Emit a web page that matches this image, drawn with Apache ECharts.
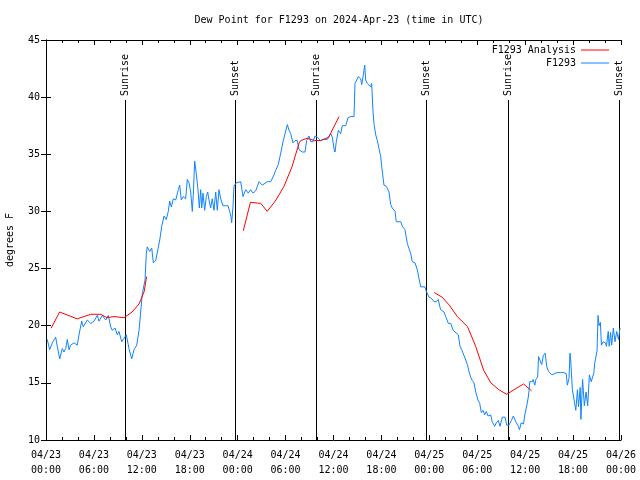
<!DOCTYPE html>
<html><head><meta charset="utf-8">
<script src="https://cdn.jsdelivr.net/npm/echarts@6/dist/echarts.min.js"></script>
<style>html,body{margin:0;padding:0;background:#fff}#c{width:640px;height:480px}</style>
</head><body><div id="c"></div>
<script>
const titleText = 'Dew Point for F1293 on 2024-Apr-23 (time in UTC)';
const yLabel = 'degrees F';
// hours since 04/23 00:00 UTC
const blueHours = [0.16,0.46,0.79,1.21,1.41,1.72,2.04,2.25,2.47,2.67,2.88,3.09,3.51,3.92,4.13,4.47,4.67,5.17,5.60,6.01,6.42,6.64,7.05,7.48,7.80,8.10,8.30,8.64,8.93,9.14,9.48,9.77,10.06,10.39,10.73,11.02,11.36,11.65,12.06,12.40,
12.56,12.68,12.99,13.24,13.44,13.74,13.94,14.24,14.49,14.78,15.06,15.31,15.49,15.69,15.94,16.24,16.57,16.74,16.94,17.19,17.49,17.69,17.91,18.12,18.32,18.44,18.62,18.82,19.03,19.20,19.37,19.50,19.66,19.87,20.07,20.25,20.41,20.62,20.82,21.04,21.25,21.45,21.66,21.88,22.16,22.50,22.79,23.00,23.17,23.25,23.42,23.54,23.83,
23.95,24.38,24.67,25.01,25.33,25.63,25.92,26.26,26.67,27.09,27.30,27.71,28.14,28.55,28.76,29.09,29.39,29.68,29.93,30.22,30.43,30.64,30.93,31.18,31.47,31.68,32.09,32.43,32.64,32.93,33.15,33.43,33.68,33.97,34.40,34.69,35.22,35.44,35.65,35.85,36.06,36.19,36.35,36.61,36.90,37.10,37.53,37.82,38.15,38.57,38.69,38.91,39.11,39.41,39.53,39.73,39.91,40.03,40.23,40.45,40.66,40.78,40.95,41.08,41.29,41.49,41.70,41.91,42.04,42.20,42.32,42.61,42.82,42.95,43.16,43.36,43.70,43.86,44.42,44.62,44.95,45.24,
45.67,45.87,46.21,46.49,46.71,46.92,47.46,47.62,47.96,48.25,48.59,48.87,49.12,49.30,49.42,49.84,50.05,50.38,50.68,50.97,51.22,51.63,51.84,52.05,52.22,52.56,52.76,52.97,53.18,53.38,53.59,53.81,54.09,54.31,54.51,54.72,54.93,55.13,55.35,55.68,55.88,56.18,56.38,56.64,56.85,57.14,57.48,57.69,57.98,58.27,58.52,58.82,59.14,
59.29,59.50,59.80,59.93,60.14,60.36,60.48,60.57,60.78,60.91,60.99,61.21,61.34,61.56,61.68,61.86,62.07,62.28,62.50,62.71,62.92,63.14,63.35,63.56,63.99,64.41,64.84,65.14,65.28,65.49,65.61,65.70,65.91,66.13,66.34,66.55,66.68,66.89,66.98,67.19,67.41,67.62,67.83,68.04,68.27,68.61,68.70,69.00,69.12,69.25,69.42,69.55,69.76,70.06,70.18,70.40,70.52,70.70,70.83,71.04,71.25,71.46,71.68,71.88];
const blueValues = [18.8,17.9,18.5,19.0,18.2,17.1,18.0,17.7,18.0,18.8,17.9,18.3,18.5,18.3,19.2,20.4,19.9,20.5,20.2,20.4,20.9,20.4,20.9,20.5,20.9,19.9,19.6,19.8,19.2,19.5,18.6,18.9,19.2,18.0,17.1,17.9,18.3,19.6,22.8,24.0,
26.3,26.9,26.5,26.8,25.5,25.7,25.7,27.5,28.7,29.6,29.3,30.0,30.9,30.4,31.1,31.0,31.9,32.3,31.0,31.3,31.1,32.8,32.5,31.7,30.0,31.4,34.4,33.3,31.9,30.3,31.9,30.3,31.6,30.1,31.3,31.7,31.0,30.3,31.1,30.1,31.7,30.1,31.9,31.1,30.5,30.5,30.5,30.0,29.5,29.0,30.5,32.2,32.5,
32.6,32.6,31.3,31.9,31.6,31.9,31.6,31.8,32.6,32.3,32.2,32.6,32.6,33.2,33.6,34.1,35.1,36.1,36.8,37.6,37.1,36.8,36.0,36.2,36.2,35.4,35.2,35.2,36.2,36.6,36.1,36.1,36.6,36.5,36.2,36.3,36.3,36.2,36.8,36.5,35.5,35.2,36.1,37.1,36.8,37.5,37.5,38.2,38.3,38.3,41.2,41.5,41.8,41.6,41.1,41.9,42.8,41.5,41.2,41.3,40.9,41.2,38.7,37.6,36.7,36.2,35.5,34.8,33.9,33.0,32.3,32.2,32.3,31.7,30.6,30.3,30.0,29.1,29.1,28.7,28.4,27.2,
26.3,25.6,25.5,24.9,24.1,23.4,23.4,23.0,22.5,22.4,22.1,22.1,22.3,21.7,21.4,21.2,20.8,20.2,20.2,19.6,19.5,19.2,18.2,17.9,17.6,17.0,16.6,16.0,15.5,15.2,15.0,14.2,13.5,13.2,12.4,12.6,12.2,12.5,12.1,12.2,11.6,11.2,11.5,11.7,11.2,12.0,12.0,11.3,11.3,11.7,12.1,11.6,11.2,
10.9,11.5,11.4,12.1,12.8,13.6,14.3,15.1,15.2,15.1,15.3,14.8,15.3,15.5,17.3,17.4,16.6,17.4,17.6,16.4,16.0,16.1,15.7,15.8,15.9,15.9,15.9,15.8,14.8,15.4,17.6,17.0,14.4,13.5,12.6,14.4,12.9,14.6,11.8,15.3,13.0,14.2,13.0,15.7,15.1,15.9,16.7,17.8,20.9,20.0,20.3,18.3,18.6,18.5,18.2,19.5,18.2,19.4,18.3,19.8,18.6,19.5,18.8,19.8];

const redHours1 = [0.66,1.70,3.91,5.59,6.87,7.64,8.51,9.77,10.77,11.65,12.30,12.60];
const redValues1 = [19.8,21.2,20.6,21.0,21.0,20.7,20.8,20.7,21.2,21.9,23.0,24.3];
const redHours2 = [24.7,25.6,26.9,27.7,28.8,29.8,30.8,31.7,31.9,32.7,33.6,34.4,35.4,36.7];
const redValues2 = [28.3,30.8,30.7,30.0,31.0,32.2,33.9,36.0,36.2,36.4,36.2,36.2,36.5,38.3];
const redHours3 = [48.6,49.6,50.5,51.5,52.8,53.8,54.8,55.7,56.7,57.7,58.6,59.8,60.8];
const redValues3 = [22.9,22.5,21.8,20.8,19.9,18.2,16.1,15.0,14.4,14.0,14.4,14.9,14.3];

const sunNames = ['Sunrise','Sunset','Sunrise','Sunset','Sunrise','Sunset'];
const sunHours = [9.88,23.62,33.87,47.64,57.88,71.75];
const sunLineTop = 39.75;

const mono = 'DejaVu Sans Mono';
const zip = (a,b) => a.map((x,i)=>[x,b[i]]);
const redData = [].concat(zip(redHours1,redValues1), [[18,'-']], zip(redHours2,redValues2), [[42,'-']], zip(redHours3,redValues3));
const blueData = zip(blueHours, blueValues);

const pad = n => (n<10?'0':'')+n;
const xFmt = v => { const d = 23 + Math.floor(v/24); const h = v % 24; return '04/' + pad(d) + '\n' + pad(h) + ':00'; };

const axisCommon = {
  axisLine:{show:true,lineStyle:{color:'#000',width:1}},
  splitLine:{show:false}
};
const lineIcon = 'path://M0,0L28,0L28,1L0,1Z';
const chart = echarts.init(document.getElementById('c'));
chart.setOption({
  animation:false,
  backgroundColor:'#fff',
  title:{text:titleText,left:334,textAlign:'center',top:10,textStyle:{fontFamily:mono,fontSize:10,fontWeight:'normal',color:'#000'}},
  legend:{orient:'vertical',right:31,top:44,align:'right',itemWidth:28,itemHeight:1.5,itemGap:1,padding:0,
    textStyle:{fontFamily:mono,fontSize:10,color:'#000',lineHeight:12},
    data:[{name:'F1293 Analysis',icon:lineIcon},{name:'F1293',icon:lineIcon}]},
  grid:{left:46,right:19,top:40,bottom:40,containLabel:false,outerBoundsMode:'none'},
  xAxis:[
    Object.assign({type:'value',min:0,max:72,interval:6,position:'bottom',
      axisTick:{show:true,inside:true,length:5,lineStyle:{color:'#000'}},
      minorTick:{show:true,splitNumber:3,length:3,lineStyle:{color:'#000'}},
      axisLabel:{formatter:xFmt,fontFamily:mono,fontSize:10,color:'#000',lineHeight:15,margin:8,showMaxLabel:true,showMinLabel:true,hideOverlap:false}},axisCommon),
    Object.assign({type:'value',min:0,max:72,interval:6,position:'top',
      axisTick:{show:true,inside:true,length:5,lineStyle:{color:'#000'}},
      minorTick:{show:true,splitNumber:3,length:3,lineStyle:{color:'#000'}},
      axisLabel:{show:false}},axisCommon)
  ],
  yAxis:[
    Object.assign({type:'value',min:10,max:45,interval:5,position:'left',
      name:yLabel,nameLocation:'middle',nameRotate:90,nameGap:31,
      nameTextStyle:{fontFamily:mono,fontSize:10,color:'#000'},
      axisTick:{show:true,inside:true,length:5,lineStyle:{color:'#000'}},
      axisLabel:{fontFamily:mono,fontSize:10,color:'#000',margin:6}},axisCommon),
    Object.assign({type:'value',min:10,max:45,interval:5,position:'right',
      axisTick:{show:true,inside:true,length:5,lineStyle:{color:'#000'}},
      axisLabel:{show:false}},axisCommon)
  ],
  series:[
    {type:'custom',name:'sun',xAxisIndex:0,yAxisIndex:0,silent:true,z:1,
      data:sunHours.map((h,i)=>[h,i]),
      renderItem:function(params,api){
        const h = api.value(0); const i = api.value(1);
        const p0 = api.coord([h,10]); const p1 = api.coord([h,sunLineTop]);
        const x = Math.round(p0[0])+0.5;
        return {type:'group',children:[
          {type:'line',shape:{x1:x,y1:p0[1],x2:x,y2:p1[1]},style:{stroke:'#000',lineWidth:1}},
          {type:'text',x:x,y:p1[1]-4,rotation:Math.PI/2,
            style:{text:sunNames[i],align:'left',verticalAlign:'middle',fontFamily:mono,fontSize:10,fill:'#000'}}
        ]};
      }},
    {type:'line',name:'F1293',data:blueData,symbol:'none',showSymbol:false,connectNulls:false,
      lineStyle:{color:'#1083ff',width:1},itemStyle:{color:'#1083ff'},z:2},
    {type:'line',name:'F1293 Analysis',data:redData,symbol:'none',showSymbol:false,connectNulls:false,
      lineStyle:{color:'#ff0000',width:1},itemStyle:{color:'#ff0000'},z:3}
  ]
});
</script></body></html>
